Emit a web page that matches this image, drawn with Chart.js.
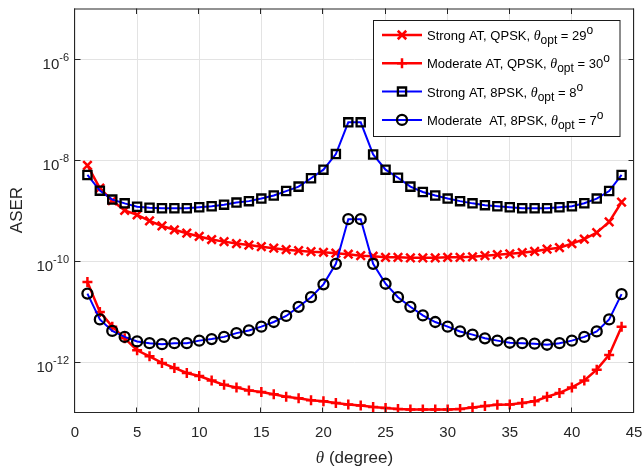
<!DOCTYPE html>
<html>
<head>
<meta charset="utf-8">
<script src="https://cdn.jsdelivr.net/npm/chart.js@4.4.1/dist/chart.umd.min.js"></script>
<style>
  html, body { margin: 0; padding: 0; background: #fff; }
</style>
</head>
<body>
<canvas id="chart" width="643" height="467"></canvas>
<script>
const theta = [1, 2, 3, 4, 5, 6, 7, 8, 9, 10, 11, 12, 13, 14, 15, 16, 17, 18, 19, 20, 21, 22,
  23, 24, 25, 26, 27, 28, 29, 30, 31, 32, 33, 34, 35, 36, 37, 38, 39, 40, 41, 42, 43, 44];

const strongQpsk = [7.9e-9, 2.8e-9, 1.58e-9, 1.02e-9, 8.3e-10, 6.3e-10, 5.0e-10, 4.2e-10, 3.6e-10,
  3.1e-10, 2.7e-10, 2.45e-10, 2.24e-10, 2.1e-10, 1.95e-10, 1.82e-10, 1.7e-10, 1.62e-10, 1.55e-10,
  1.51e-10, 1.45e-10, 1.38e-10, 1.29e-10, 1.26e-10, 1.2e-10, 1.2e-10, 1.17e-10, 1.17e-10, 1.17e-10,
  1.2e-10, 1.2e-10, 1.23e-10, 1.29e-10, 1.35e-10, 1.41e-10, 1.48e-10, 1.58e-10, 1.74e-10, 1.86e-10,
  2.24e-10, 2.75e-10, 3.7e-10, 6.0e-10, 1.48e-9];

const moderateQpsk = [3.9e-11, 1.0e-11, 5.1e-12, 3.0e-12, 1.74e-12, 1.32e-12, 9.8e-13, 7.8e-13, 6.2e-13,
  5.4e-13, 4.4e-13, 3.6e-13, 3.2e-13, 2.8e-13, 2.6e-13, 2.35e-13, 2.1e-13, 1.95e-13, 1.78e-13,
  1.7e-13, 1.58e-13, 1.48e-13, 1.41e-13, 1.32e-13, 1.26e-13, 1.2e-13, 1.17e-13, 1.17e-13, 1.17e-13,
  1.17e-13, 1.2e-13, 1.29e-13, 1.38e-13, 1.45e-13, 1.48e-13, 1.58e-13, 1.7e-13, 2.1e-13, 2.5e-13,
  3.2e-13, 4.4e-13, 7.2e-13, 1.41e-12, 5.1e-12];

const strong8psk = [5.1e-9, 2.5e-9, 1.66e-9, 1.4e-9, 1.2e-9, 1.15e-9, 1.12e-9, 1.12e-9, 1.12e-9,
  1.17e-9, 1.23e-9, 1.32e-9, 1.45e-9, 1.55e-9, 1.74e-9, 2.0e-9, 2.45e-9, 3.0e-9, 4.4e-9,
  6.5e-9, 1.32e-8, 5.6e-8, 5.6e-8, 1.3e-8, 6.5e-9, 4.5e-9, 3.0e-9, 2.35e-9, 2.0e-9,
  1.74e-9, 1.55e-9, 1.4e-9, 1.29e-9, 1.23e-9, 1.17e-9, 1.12e-9, 1.12e-9, 1.12e-9, 1.17e-9,
  1.23e-9, 1.41e-9, 1.74e-9, 2.45e-9, 5.1e-9];

const moderate8psk = [2.3e-11, 7.1e-12, 4.2e-12, 3.2e-12, 2.6e-12, 2.4e-12, 2.3e-12, 2.4e-12, 2.4e-12,
  2.7e-12, 2.9e-12, 3.2e-12, 3.8e-12, 4.3e-12, 5.1e-12, 6.3e-12, 8.3e-12, 1.26e-11, 1.95e-11,
  3.5e-11, 8.9e-11, 6.8e-10, 6.8e-10, 8.9e-11, 3.6e-11, 1.95e-11, 1.26e-11, 8.5e-12, 6.3e-12,
  5.1e-12, 4.1e-12, 3.55e-12, 3.0e-12, 2.7e-12, 2.45e-12, 2.4e-12, 2.35e-12, 2.24e-12, 2.4e-12,
  2.7e-12, 3.2e-12, 4.1e-12, 7.1e-12, 2.24e-11];

const xTicks = [0, 5, 10, 15, 20, 25, 30, 35, 40, 45];
const yTicks = [1e-6, 1e-8, 1e-10, 1e-12];
const yTickExps = ["-6", "-8", "-10", "-12"];

const legendNames = ["Strong AT, QPSK, ", "Moderate AT, QPSK, ", "Strong AT, 8PSK, ", "Moderate  AT, 8PSK, "];
const thetaOpt = ["29", "30", "8", "7"];

const SANS = '"Liberation Sans", Arial, sans-serif';
const SERIF = '"Liberation Serif", "Times New Roman", serif';
const AXIS = "#262626";

function pts(values) {
  return theta.map((t, i) => ({ x: t, y: values[i] }));
}

// Text made of pieces with their own font and vertical shift (sub/superscripts).
function drawParts(ctx, parts, x, y, align) {
  let total = 0;
  parts.forEach((p) => { ctx.font = p.font; total += ctx.measureText(p.text).width; });
  let cx = align === "center" ? x - total / 2 : align === "right" ? x - total : x;
  ctx.textAlign = "left";
  ctx.textBaseline = "alphabetic";
  parts.forEach((p) => {
    ctx.font = p.font;
    ctx.fillText(p.text, cx, y + (p.dy || 0));
    cx += ctx.measureText(p.text).width;
  });
}

const frameAndLabels = {
  id: "frameAndLabels",
  afterDraw(chart) {
    const { ctx, chartArea: { left, right, top, bottom }, scales: { x, y } } = chart;
    ctx.save();

    // axes box
    ctx.strokeStyle = AXIS;
    ctx.lineWidth = 1;
    ctx.strokeRect(left - 0.5, top + 0.5, right - left, bottom - top - 1);

    // tick marks, pointing inwards on all four sides
    const tl = 5.5;
    ctx.beginPath();
    xTicks.forEach((v) => {
      const px = Math.round(x.getPixelForValue(v)) - 0.5;
      ctx.moveTo(px, bottom); ctx.lineTo(px, bottom - tl);
      ctx.moveTo(px, top); ctx.lineTo(px, top + tl);
    });
    yTicks.forEach((v) => {
      const py = Math.round(y.getPixelForValue(v)) + 0.5;
      ctx.moveTo(left, py); ctx.lineTo(left + tl, py);
      ctx.moveTo(right, py); ctx.lineTo(right - tl, py);
    });
    ctx.stroke();

    // tick labels
    ctx.fillStyle = AXIS;
    ctx.font = "15px " + SANS;
    ctx.textAlign = "center";
    ctx.textBaseline = "alphabetic";
    xTicks.forEach((v) => {
      ctx.fillText(String(v), x.getPixelForValue(v), 437);
    });
    yTicks.forEach((v, i) => {
      const py = y.getPixelForValue(v);
      ctx.font = "11px " + SANS;
      const we = ctx.measureText(yTickExps[i]).width;
      ctx.font = "15px " + SANS;
      const wb = ctx.measureText("10").width;
      const xr = left - 6;
      ctx.textAlign = "left";
      ctx.fillText("10", xr - we - wb, py + 10);
      ctx.font = "11px " + SANS;
      ctx.fillText(yTickExps[i], xr - we, py + 1.5);
    });

    // axis titles
    drawParts(ctx, [
      { text: "\u03b8", font: "italic 17px " + SERIF },
      { text: " (degree)", font: "17px " + SANS },
    ], (left + right) / 2, 463, "center");

    ctx.save();
    ctx.translate(22, 210);
    ctx.rotate(-Math.PI / 2);
    ctx.font = "17px " + SANS;
    ctx.textAlign = "center";
    ctx.textBaseline = "alphabetic";
    ctx.fillText("ASER", 0, 0);
    ctx.restore();

    // legend
    const lx = 373.5, ly = 20.5, lw = 246.5, lh = 116;
    ctx.fillStyle = "#fff";
    ctx.fillRect(lx, ly, lw, lh);
    ctx.strokeStyle = "#1a1a1a";
    ctx.lineWidth = 1;
    ctx.strokeRect(lx, ly, lw, lh);

    chart.data.datasets.forEach((ds, i) => {
      const ry = 35 + i * 28.3;
      ctx.strokeStyle = ds.borderColor;
      ctx.lineWidth = ds.borderWidth;
      ctx.beginPath();
      ctx.moveTo(382, ry);
      ctx.lineTo(422, ry);
      ctx.stroke();
      ctx.strokeStyle = ds.pointBorderColor;
      ctx.fillStyle = "rgba(0,0,0,0)";
      ctx.lineWidth = ds.pointBorderWidth;
      Chart.helpers.drawPoint(ctx, {
        pointStyle: ds.pointStyle, radius: ds.pointRadius, rotation: 0, borderWidth: ds.pointBorderWidth,
      }, 402, ry);

      ctx.fillStyle = "#000";
      drawParts(ctx, [
        { text: legendNames[i], font: "13px " + SANS },
        { text: "\u03b8", font: "italic 14px " + SERIF },
        { text: "opt", font: "12px " + SANS, dy: 4 },
        { text: " = " + thetaOpt[i], font: "13px " + SANS },
        { text: "o", font: "12px " + SANS, dy: -6 },
      ], 427, ry + 5, "left");
    });

    ctx.restore();
  },
};

new Chart(document.getElementById("chart"), {
  type: "line",
  data: {
    datasets: [
      {
        label: "Strong AT, QPSK",
        data: pts(strongQpsk),
        borderColor: "#ff0000",
        borderWidth: 2.5,
        pointStyle: "crossRot",
        pointRadius: 6,
        pointBorderWidth: 2.5,
        pointBorderColor: "#ff0000",
        pointBackgroundColor: "rgba(0,0,0,0)",
        order: 4,
      },
      {
        label: "Moderate AT, QPSK",
        data: pts(moderateQpsk),
        borderColor: "#ff0000",
        borderWidth: 2.5,
        pointStyle: "cross",
        pointRadius: 5,
        pointBorderWidth: 2.5,
        pointBorderColor: "#ff0000",
        pointBackgroundColor: "rgba(0,0,0,0)",
        order: 3,
      },
      {
        label: "Strong AT, 8PSK",
        data: pts(strong8psk),
        borderColor: "#0000ff",
        borderWidth: 2,
        pointStyle: "rect",
        pointRadius: 5.8,
        pointBorderWidth: 2.3,
        pointBorderColor: "#000000",
        pointBackgroundColor: "rgba(0,0,0,0)",
        order: 2,
      },
      {
        label: "Moderate  AT, 8PSK",
        data: pts(moderate8psk),
        borderColor: "#0000ff",
        borderWidth: 2,
        pointStyle: "circle",
        pointRadius: 5,
        pointBorderWidth: 2.3,
        pointBorderColor: "#000000",
        pointBackgroundColor: "rgba(0,0,0,0)",
        order: 1,
      },
    ],
  },
  options: {
    responsive: false,
    animation: false,
    layout: { padding: { left: 75, top: 5, right: 9, bottom: 54 } },
    plugins: { legend: { display: false }, tooltip: { enabled: false } },
    elements: { line: { tension: 0 } },
    scales: {
      x: {
        type: "linear",
        min: 0,
        max: 45,
        afterBuildTicks: (s) => { s.ticks = xTicks.map((v) => ({ value: v })); },
        afterFit: (s) => { s.height = 0; },
        ticks: { display: false },
        grid: { color: "#e3e3e3", drawTicks: false },
        border: { display: false },
      },
      y: {
        type: "logarithmic",
        min: 1e-13,
        max: 1e-5,
        afterBuildTicks: (s) => { s.ticks = yTicks.map((v) => ({ value: v })); },
        afterFit: (s) => { s.width = 0; },
        ticks: { display: false },
        grid: { color: "#e3e3e3", drawTicks: false },
        border: { display: false },
      },
    },
  },
  plugins: [frameAndLabels],
});
</script>
</body>
</html>
